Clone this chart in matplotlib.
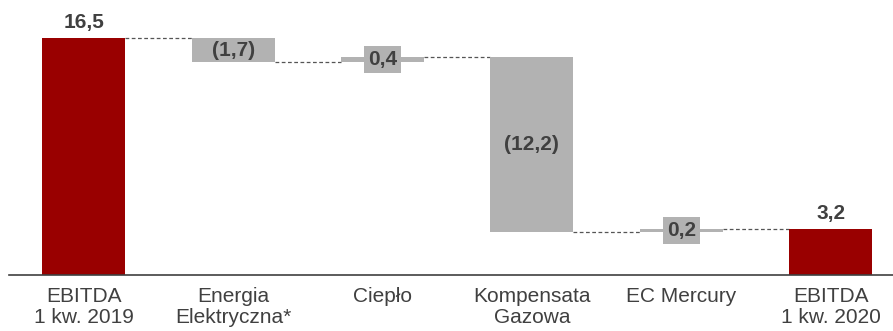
import matplotlib
matplotlib.use("Agg")
import matplotlib.pyplot as plt

plt.rcParams['font.family'] = ['Liberation Sans', 'DejaVu Sans']

categories = ["EBITDA\n1 kw. 2019", "Energia\nElektryczna*", "Ciepło",
              "Kompensata\nGazowa", "EC Mercury", "EBITDA\n1 kw. 2020"]
values = [16.5, -1.7, 0.4, -12.2, 0.2, 3.2]
kinds = ["total", "delta", "delta", "delta", "delta", "total"]
labels = ["16,5", "(1,7)", "0,4", "(12,2)", "0,2", "3,2"]

RED = "#990000"
GRAY = "#b2b2b2"
TEXT = "#404040"
FS = 15

fig = plt.figure(figsize=(8.93, 3.31), dpi=100)
ax = fig.add_axes([9 / 893, 56 / 331, 884 / 893, 258.5 / 331])

width = 0.555
level = 0.0
bounds = []
for i, (v, k) in enumerate(zip(values, kinds)):
    if k == "total":
        bottom, top = 0.0, v
        level = v
        ax.bar(i, v, width=width, color=RED, zorder=2)
    else:
        start = level
        level = level + v
        bottom, top = min(start, level), max(start, level)
        ax.bar(i, top - bottom, bottom=bottom, width=width, color=GRAY, zorder=2)
    bounds.append((bottom, top, level))

# connector lines between consecutive bars
for i in range(len(values) - 1):
    y = bounds[i][2]
    ax.plot([i + width / 2, i + 1 - width / 2], [y, y], ls=(0, (3, 2)),
            color="#555555", lw=0.9, zorder=1)

# value labels
for i, (k, lab) in enumerate(zip(kinds, labels)):
    bottom, top, _ = bounds[i]
    if k == "total":
        ax.text(i, top + 0.4, lab, ha="center", va="bottom", fontsize=FS,
                fontweight="bold", color=TEXT)
    elif top - bottom >= 1.0:
        ax.text(i, (top + bottom) / 2, lab, ha="center", va="center",
                fontsize=FS, fontweight="bold", color=TEXT)
    else:
        ax.text(i, (top + bottom) / 2, lab, ha="center", va="center",
                fontsize=FS, fontweight="bold", color=TEXT, zorder=3,
                bbox=dict(boxstyle="square,pad=0.2", fc=GRAY, ec="none"))

ax.set_xlim(-0.5, 5.417)
ax.set_ylim(0, 18)
ax.set_xticks(range(len(categories)))
ax.set_xticklabels(categories, fontsize=FS, color=TEXT, linespacing=1.12)
ax.tick_params(axis="x", length=0, pad=9)
ax.set_yticks([])
for s in ["top", "right", "left"]:
    ax.spines[s].set_visible(False)
ax.spines["bottom"].set_color(TEXT)
ax.spines["bottom"].set_linewidth(1.2)

fig.savefig("out.png", dpi=100)
